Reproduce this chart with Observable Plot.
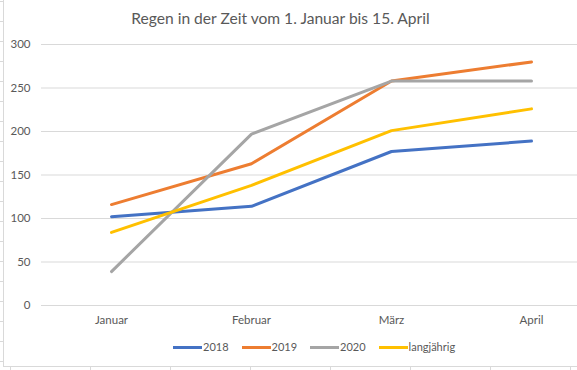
<!DOCTYPE html>
<html>
<head>
<meta charset="utf-8">
<script src="https://cdn.jsdelivr.net/npm/d3@7"></script>
<script src="https://cdn.jsdelivr.net/npm/@observablehq/plot@0.6"></script>
<style>
  html, body { margin: 0; padding: 0; background: #fff; width: 577px; height: 370px; overflow: hidden; }
  .vline { position: absolute; left: 3px; top: 0; width: 1px; height: 367px; background: #d9d9d9; }
  .hline { position: absolute; left: 3px; top: 366px; width: 574px; height: 1px; background: #d9d9d9; }
  .rowticks { position: absolute; left: 0; top: 1px; width: 3px; height: 366px;
    background: repeating-linear-gradient(to bottom, #d9d9d9 0 1px, transparent 1px 20px); }
  .colticks { position: absolute; left: 10px; top: 367px; width: 567px; height: 3px;
    background: repeating-linear-gradient(to right, #d9d9d9 0 1px, transparent 1px 80px); }
  #chart { position: absolute; left: 4px; top: 0; width: 573px; height: 366px; overflow: hidden; background: #fff;
    font-family: Lato, "Open Sans", sans-serif; color: #595959; }
  #title { position: absolute; left: 0; top: 7px; width: 553px; text-align: center; font-size: 15.6px; line-height: 22px; color: #595959; }
  #plot { position: absolute; left: 0; top: 36px; width: 600px; }
  #plot svg { max-width: none !important; }
  #legend { position: absolute; left: 169px; top: 339px; display: flex; align-items: center; font-size: 11px; line-height: 16px; white-space: nowrap; }
  .item { display: flex; align-items: center; margin-right: 13px; }
  .sw { width: 29px; height: 3px; margin-right: 1px; }
</style>
</head>
<body>
<div class="vline"></div>
<div class="rowticks"></div>
<div class="hline"></div>
<div class="colticks"></div>
<div id="chart">
  <div id="title">Regen in der Zeit vom 1. Januar bis 15. April</div>
  <div id="plot"></div>
  <div id="legend"></div>
</div>
<script>
const months = ["Januar", "Februar", "März", "April"];
const series = ["2018", "2019", "2020", "langjährig"];
const v2018 = [102, 114, 177, 189];
const v2019 = [116, 163, 258, 280];
const v2020 = [39, 197, 258, 258];
const vLang = [84, 138, 201, 226];
const colors = ["#4472C4", "#ED7D31", "#A5A5A5", "#FFC000"];
const yTicks = [0, 50, 100, 150, 200, 250, 300];

const valuesBySeries = [v2018, v2019, v2020, vLang];
const table = [];
series.forEach((s, si) => {
  months.forEach((m, mi) => table.push({series: s, month: m, value: valuesBySeries[si][mi]}));
});

const chart = Plot.plot({
  width: 600,
  height: 300,
  marginLeft: 37,
  marginRight: 3,
  marginTop: 8,
  marginBottom: 31,
  style: {fontFamily: "Lato, 'Open Sans', sans-serif", fontSize: "11.5px", color: "#595959", background: "transparent", overflow: "visible", maxWidth: "none", width: "600px", height: "300px"},
  x: {type: "point", domain: months, padding: 0.5},
  y: {domain: [0, 300]},
  color: {domain: series, range: colors},
  marks: [
    Plot.gridY(yTicks, {stroke: "#d9d9d9", strokeOpacity: 1}),
    Plot.axisY(yTicks, {tickSize: 0, tickPadding: 11, label: null}),
    Plot.axisX({tickSize: 0, tickPadding: 10, label: null}),
    Plot.line(table, {x: "month", y: "value", z: "series", stroke: "series", strokeWidth: 3, strokeLinecap: "round", strokeLinejoin: "round"})
  ]
});
document.getElementById("plot").appendChild(chart);

const legend = document.getElementById("legend");
series.forEach((s, i) => {
  const item = document.createElement("div");
  item.className = "item";
  const sw = document.createElement("div");
  sw.className = "sw";
  sw.style.background = colors[i];
  const label = document.createElement("span");
  label.textContent = s;
  item.appendChild(sw);
  item.appendChild(label);
  legend.appendChild(item);
});
</script>
</body>
</html>
